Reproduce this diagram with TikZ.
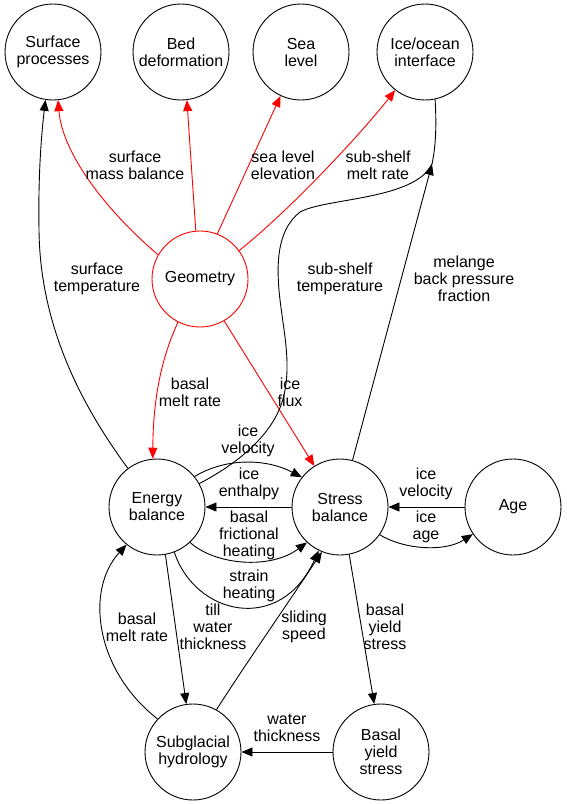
\documentclass[tikz,border=0pt]{standalone}
\usepackage{fontspec}
\setmainfont{Liberation Sans}
\usetikzlibrary{arrows.meta}
\begin{document}
\begin{tikzpicture}[x=1pt,y=-1pt,
  every node/.style={font=\fontsize{16}{17}\selectfont, align=center},
  nd/.style={circle, draw, minimum size=96pt, inner sep=0pt, line width=0.9pt},
  ed/.style={line width=0.9pt, -{Triangle[length=11pt,width=9pt]}},
  pl/.style={line width=0.9pt},
  rd/.style={ed, red},
  lab/.style={inner sep=0pt}]
\useasboundingbox (0,0) rectangle (567,804);
% nodes
\node[nd] (sp) at (53,52) {Surface\\processes};
\node[nd] (bd) at (181,52) {Bed\\deformation};
\node[nd] (sl) at (301,52) {Sea\\level};
\node[nd] (io) at (425,52) {Ice/ocean\\interface};
\node[nd, draw=red] (geo) at (200,279) {Geometry};
\node[nd] (en) at (157,507) {Energy\\balance};
\node[nd] (st) at (340,507) {Stress\\balance};
\node[nd] (ag) at (513,507) {Age};
\node[nd] (sg) at (193,752) {Subglacial\\hydrology};
\node[nd] (by) at (381,752) {Basal\\yield\\stress};
\coordinate (j) at (432,164);
% red edges
\draw[rd] (geo.150) .. controls (100,205) and (62,150) .. (sp.-84);
\draw[rd] (geo.95) -- (bd.-83);
\draw[rd] (geo.69) -- (sl.-115);
\draw[rd] (geo.36) .. controls (290,210) and (360,135) .. (io.-128);
\draw[rd] (geo.-117) .. controls (158,365) and (153,410) .. (en.95);
\draw[rd] (geo.-60) -- (st.122);
% black edges
\draw[ed] (en.127) .. controls (85,410) and (40,330) .. (39,230) .. controls (38,170) and (42,130) .. (sp.-99);
\draw[pl] (io.-78) .. controls (437,130) and (435,150) .. (j);
\draw[ed] (st.75) -- (j);
\draw[pl] (j) .. controls (415,200) and (325,198) .. (300,212)
  .. controls (280,228) and (276,255) .. (279,290)
  .. controls (282,325) and (292,360) .. (284,395)
  .. controls (275,435) and (235,465) .. (en.29);
\draw[ed] (en.39) .. controls (225,458) and (265,458) .. (st.142);
\draw[ed] (st.180) -- (en.0);
\draw[ed] (en.-47) .. controls (215,565) and (270,570) .. (st.-133);
\draw[ed] (en.-69) .. controls (195,615) and (280,635) .. (st.-116);
\draw[ed] (en.-80) -- (sg.98);
\draw[ed] (sg.137) .. controls (95,670) and (85,590) .. (en.-129);
\draw[ed] (sg.61) .. controls (245,665) and (290,600) .. (st.-112);
\draw[ed] (st.-79) -- (by.98);
\draw[ed] (by.180) -- (sg.0);
\draw[ed] (ag.180) -- (st.0);
\draw[ed] (st.-35) .. controls (405,550) and (445,552) .. (ag.-146);
% labels
\node[lab] (l1) at (135,165) {surface\\mass balance};
\node[lab] (l2) at (283,165) {sea level\\elevation};
\node[lab] (l3) at (378,165) {sub-shelf\\melt rate};
\node[lab] (l4) at (97,279) {surface\\temperature};
\node[lab] (l5) at (340,279) {sub-shelf\\temperature};
\node[lab] (l6) at (464,279) {melange\\back pressure\\fraction};
\node[lab] (l7) at (190,392) {basal\\melt rate};
\node[lab] (l8) at (290,392) {ice\\flux};
\node[lab] (l9) at (248,441) {ice\\velocity};
\node[lab] (l10) at (249,484) {ice\\enthalpy};
\node[lab] (l11) at (249,535) {basal\\frictional\\heating};
\node[lab] (l12) at (249,586) {strain\\heating};
\node[lab] (l13) at (213,627) {till\\water\\thickness};
\node[lab] (l14) at (137,627) {basal\\melt rate};
\node[lab] (l15) at (304,627) {sliding\\speed};
\node[lab] (l16) at (385,627) {basal\\yield\\stress};
\node[lab] (l17) at (426,484) {ice\\velocity};
\node[lab] (l18) at (426,527) {ice\\age};
\node[lab] (l19) at (287,728) {water\\thickness};
\end{tikzpicture}
\end{document}
